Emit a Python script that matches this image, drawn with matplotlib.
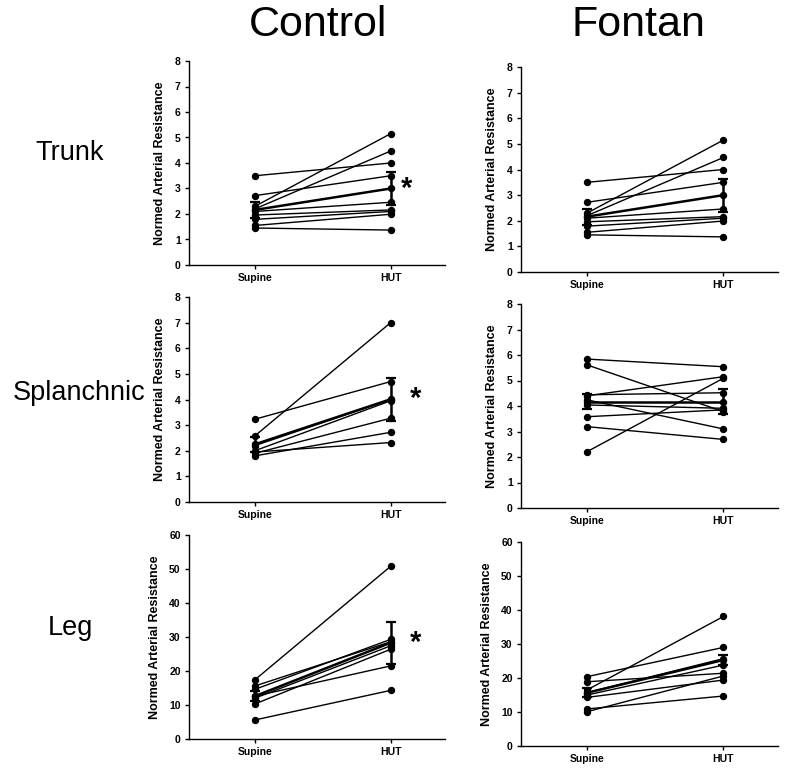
import matplotlib
matplotlib.use("Agg")
import matplotlib.pyplot as plt
import numpy as np

plt.rcParams['font.family'] = ['Liberation Sans', 'DejaVu Sans']

# ---------------- data ----------------
conditions = ["Supine", "HUT"]
column_titles = ["Control", "Fontan"]
row_labels = ["Trunk", "Splanchnic", "Leg"]
y_label = "Normed Arterial Resistance"

# Control - Trunk
ctrl_trunk_supine = [3.50, 2.72, 2.30, 2.20, 2.10, 1.96, 1.79, 1.55, 1.45]
ctrl_trunk_hut = [4.00, 3.50, 5.15, 4.47, 2.46, 2.16, 2.10, 1.99, 1.37]
ctrl_trunk_mean = [2.16, 3.00]
ctrl_trunk_se = [0.31, 0.64]

# Fontan - Trunk
fon_trunk_supine = [3.50, 2.72, 2.30, 2.20, 2.10, 1.96, 1.79, 1.55, 1.45]
fon_trunk_hut = [4.00, 3.50, 5.15, 4.47, 2.46, 2.16, 2.10, 1.99, 1.37]
fon_trunk_mean = [2.16, 3.00]
fon_trunk_se = [0.31, 0.64]

# Control - Splanchnic
ctrl_spl_supine = [2.58, 3.23, 2.20, 2.00, 1.90, 1.80, 1.95]
ctrl_spl_hut = [7.00, 4.70, 4.00, 3.95, 3.27, 2.72, 2.32]
ctrl_spl_mean = [2.25, 4.01]
ctrl_spl_se = [0.30, 0.83]

# Fontan - Splanchnic
fon_spl_supine = [5.84, 5.61, 4.40, 2.21, 4.44, 4.24, 4.04, 3.58, 3.19]
fon_spl_hut = [5.54, 3.78, 5.15, 5.09, 4.52, 3.10, 3.91, 3.85, 2.69]
fon_spl_mean = [4.17, 4.17]
fon_spl_se = [0.29, 0.48]

# Control - Leg
ctrl_leg_supine = [17.4, 15.6, 14.6, 12.6, 12.0, 10.3, 5.6]
ctrl_leg_hut = [50.8, 28.6, 29.3, 21.5, 27.4, 26.4, 14.3]
ctrl_leg_mean = [12.6, 28.3]
ctrl_leg_se = [1.5, 6.2]

# Fontan - Leg
fon_leg_supine = [16.5, 20.4, 18.9, 15.7, 15.0, 14.3, 10.1, 10.9]
fon_leg_hut = [38.1, 29.0, 21.4, 25.7, 23.8, 19.4, 20.6, 14.7]
fon_leg_mean = [15.65, 25.3]
fon_leg_se = [1.35, 1.6]

sig_marks = [[True, False], [True, False], [True, False]]

panels = [
    [(ctrl_trunk_supine, ctrl_trunk_hut, ctrl_trunk_mean, ctrl_trunk_se),
     (fon_trunk_supine, fon_trunk_hut, fon_trunk_mean, fon_trunk_se)],
    [(ctrl_spl_supine, ctrl_spl_hut, ctrl_spl_mean, ctrl_spl_se),
     (fon_spl_supine, fon_spl_hut, fon_spl_mean, fon_spl_se)],
    [(ctrl_leg_supine, ctrl_leg_hut, ctrl_leg_mean, ctrl_leg_se),
     (fon_leg_supine, fon_leg_hut, fon_leg_mean, fon_leg_se)],
]
y_limits = [(0, 8, 1), (0, 8, 1), (0, 60, 10)]

# ---------------- layout ----------------
W, H = 800, 768
fig = plt.figure(figsize=(W / 100, H / 100), dpi=100)

# axes boxes in pixels: (left, x_right, y_bottom(px from top), y_top(px from top))
boxes = [
    [(189, 445, 265, 61), (521, 778, 272, 67)],
    [(189, 445, 502, 297), (521, 778, 508, 304)],
    [(189, 445, 739, 535), (521, 778, 746, 542)],
]

for r in range(3):
    for c in range(2):
        l, rr, b, t = boxes[r][c]
        ax = fig.add_axes([l / W, 1 - b / H, (rr - l) / W, (b - t) / H])
        sup, hut, mean, se = panels[r][c]
        xs = [0, 1]
        for s, h in zip(sup, hut):
            ax.plot(xs, [s, h], color='black', lw=1.0, marker='o',
                    markersize=4.3, zorder=3, clip_on=False)
        ax.errorbar(xs, mean, yerr=se, color='black', lw=1.8, marker='o',
                    markersize=4.3, capsize=3.5, capthick=1.6, elinewidth=1.8,
                    zorder=4, clip_on=False)
        lo, hi, step = y_limits[r]
        ax.set_ylim(lo, hi)
        ax.set_yticks(np.arange(lo, hi + step / 2, step))
        ax.set_xlim(-0.485, 1.4)
        ax.set_xticks(xs)
        ax.set_xticklabels(conditions)
        for sp in ['top', 'right']:
            ax.spines[sp].set_visible(False)
        for sp in ['left', 'bottom']:
            ax.spines[sp].set_linewidth(1.0)
        ax.tick_params(axis='both', direction='out', length=3, width=1.0,
                       labelsize=7.5, pad=3)
        for lab in ax.get_xticklabels() + ax.get_yticklabels():
            lab.set_fontweight('bold')
        ax.set_ylabel(y_label, fontsize=9, fontweight='bold', labelpad=6)
        if sig_marks[r][c]:
            off = 0.12 if r == 0 else 0.18
            ax.text(1 + off, mean[1], "*", fontsize=21, fontweight='bold',
                    ha='center', va='center')

# column titles
for c, (title, xc) in enumerate(zip(column_titles, [318, 638])):
    fig.text(xc / W, 1 - 25 / H, title, fontsize=31,
             ha='center', va='center')

# row labels
for lab, (xc, yc) in zip(row_labels, [(70, 153), (79, 393), (70, 628)]):
    fig.text(xc / W, 1 - yc / H, lab, fontsize=19.5, ha='center', va='center')

fig.savefig("out.png", dpi=100)
